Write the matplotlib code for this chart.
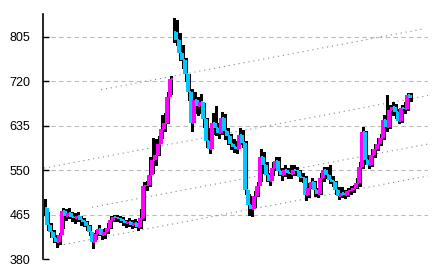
import numpy as np
import matplotlib.pyplot as plt

# --- dados ---
close = [478, 445, 432, 420, 412, 425, 472, 462, 468, 460,
         458, 463, 455, 450, 443, 432, 412, 428, 438, 425,
         432, 440, 455, 460, 458, 456, 452, 448, 450, 446,
         448, 442, 458, 520, 522, 540, 570, 580, 600, 628,
         640, 690, 725, 815, 800, 775, 760, 735, 700, 640,
         685, 672, 680, 648, 605, 590, 640, 630, 622, 650,
         625, 615, 600, 595, 590, 618, 602, 512, 483, 475,
         500, 520, 575, 560, 540, 530, 554, 568, 548, 540,
         550, 545, 543, 550, 548, 537, 535, 503, 516, 527,
         512, 505, 535, 550, 541, 531, 527, 512, 500, 506,
         503, 510, 512, 515, 525, 556, 623, 570, 560, 579,
         590, 600, 612, 646, 632, 665, 671, 661, 645, 669,
         668, 694, 688]
high = [495, 470, 448, 435, 425, 430, 478, 475, 478, 470,
        468, 470, 462, 458, 452, 445, 430, 436, 445, 438,
        440, 448, 462, 465, 464, 462, 460, 455, 458, 454,
        456, 452, 475, 528, 530, 575, 612, 610, 615, 655,
        660, 700, 730, 842, 838, 812, 790, 765, 735, 705,
        700, 690, 695, 678, 650, 630, 660, 672, 640, 662,
        658, 630, 620, 610, 605, 630, 626, 605, 505, 500,
        510, 528, 590, 585, 565, 545, 565, 575, 575, 555,
        560, 555, 560, 560, 556, 550, 545, 538, 525, 535,
        530, 515, 545, 556, 556, 560, 538, 530, 518, 518,
        512, 516, 520, 522, 535, 565, 632, 625, 580, 590,
        600, 612, 620, 655, 694, 675, 680, 676, 668, 675,
        680, 698, 698]
low = [465, 435, 422, 412, 403, 408, 440, 455, 458, 452,
       448, 452, 446, 444, 436, 425, 402, 418, 425, 418,
       420, 430, 440, 452, 452, 450, 446, 442, 444, 440,
       442, 436, 440, 455, 512, 520, 545, 560, 580, 612,
       625, 640, 695, 795, 789, 760, 745, 720, 685, 625,
       660, 655, 660, 632, 595, 583, 620, 618, 612, 620,
       610, 600, 590, 585, 583, 600, 595, 505, 465, 462,
       480, 500, 530, 545, 530, 522, 540, 550, 540, 532,
       538, 535, 536, 540, 540, 530, 528, 493, 498, 515,
       500, 498, 505, 530, 535, 525, 520, 505, 495, 498,
       497, 500, 505, 508, 515, 520, 555, 562, 555, 558,
       575, 588, 598, 610, 625, 630, 655, 650, 640, 642,
       660, 665, 682]
gap_idx = [43]  # abertura com salto, sem traço vertical

# linhas de tendência pontilhadas (índice inicial, valor inicial, índice final, valor final)
trend_x0 = [19, 0, 16, 5]
trend_y0 = [704, 554, 479, 406]
trend_x1 = [126, 128, 128, 128]
trend_y1 = [820, 693, 600, 539]

yticks = [380, 465, 550, 635, 720, 805]

UP = '#ff00ff'
DOWN = '#00c8ff'

x = np.arange(len(close))

fig = plt.figure(figsize=(4.33, 2.73), dpi=100)
ax = fig.add_axes([43 / 433, 14 / 273, 385 / 433, 245 / 273])

# grade horizontal
for t in yticks:
    ax.axhline(t, color='#bbbbbb', lw=0.8, ls=(0, (4, 3)), zorder=0)

# tendências
for a, b, c, d in zip(trend_x0, trend_y0, trend_x1, trend_y1):
    ax.plot([a, c], [b, d], color='#888888', lw=0.8, ls=(0, (1, 3.5)), zorder=1)

# barras máxima-mínima
ax.vlines(x + 0.45, low, high, color='black', lw=0.9, zorder=2, antialiased=False)

# linha de fechamento em degraus, colorida pela direção
for i in range(1, len(close)):
    c = UP if close[i] >= close[i - 1] else DOWN
    ax.hlines(close[i - 1], x[i - 1] + 0.3, x[i], color=c, lw=1.4, zorder=3, antialiased=False)
    if i not in gap_idx:
        ax.vlines(x[i], close[i - 1], close[i], color=c, lw=1.6, zorder=3, antialiased=False)

ax.set_xlim(-0.33, 128)
ax.set_ylim(380, 849)
ax.set_yticks(yticks)
ax.set_yticklabels([str(t) for t in yticks], family='Liberation Sans', fontsize=9)
ax.set_xticks([])
ax.tick_params(axis='y', direction='in', length=4, width=1, pad=9)
for s in ['top', 'right', 'bottom']:
    ax.spines[s].set_visible(False)
ax.spines['left'].set_linewidth(1.2)

plt.savefig('out.png', dpi=100)
